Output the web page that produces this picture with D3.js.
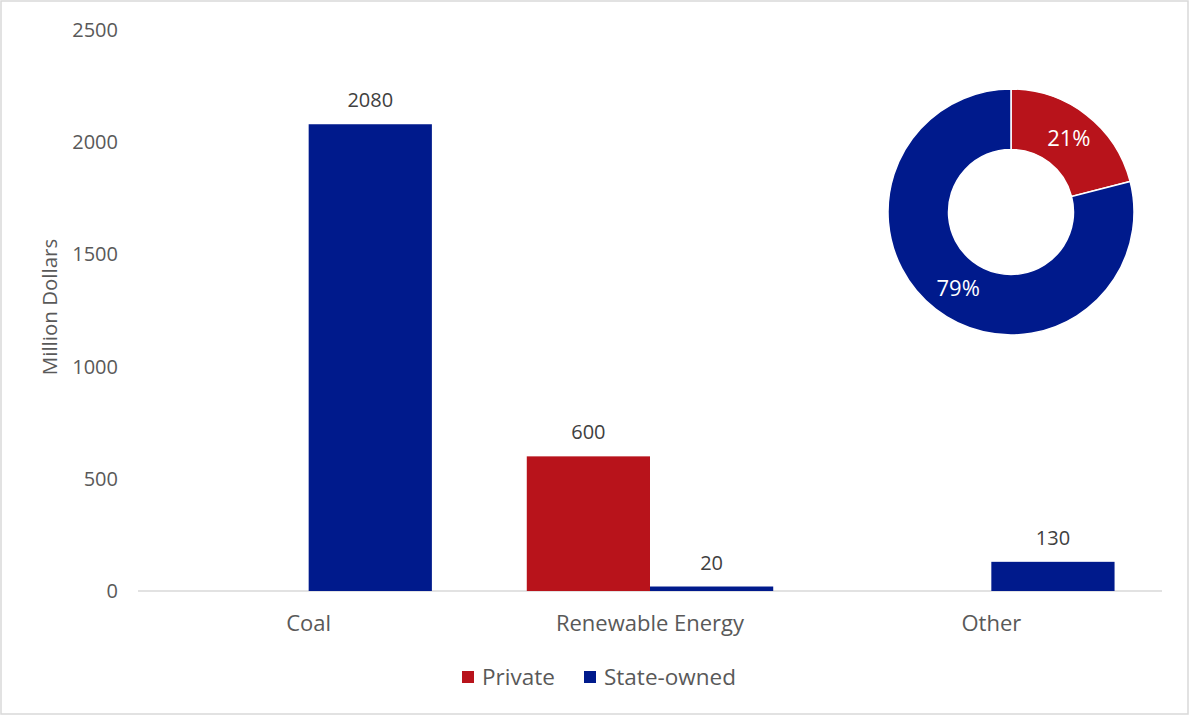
<!DOCTYPE html>
<html><head><meta charset="utf-8">
<script src="https://cdn.jsdelivr.net/npm/d3@7"></script>
<style>
html,body{margin:0;padding:0;background:#fff;}
svg{display:block;font-family:"Open Sans", sans-serif;}
</style></head>
<body><svg id="c" width="1190" height="716"></svg>
<script>
const categories = ["Coal", "Renewable Energy", "Other"];
const seriesNames = ["Private", "State-owned"];
const privateValues = [null, 600, null];
const stateValues = [2080, 20, 130];
const yTicks = [0, 500, 1000, 1500, 2000, 2500];
const donutLabels = ["Private", "State-owned"];
const donutValues = [21, 79];
const colors = {"Private": "#B8131B", "State-owned": "#001A8C"};

(function () {
const svg = d3.select("#c");
const W = 1190, H = 716;
svg.append("rect").attr("x", 1).attr("y", 1).attr("width", W - 3).attr("height", H - 3)
  .attr("fill", "#fff").attr("stroke", "#d9d9d9").attr("stroke-width", 1.5);

const pL = 138, pR = 1162, pT = 30, pB = 591;
const y = d3.scaleLinear().domain([0, 2500]).range([pB, pT]);
const x0 = d3.scaleBand().domain(categories).range([pL, pR]).padding(0);
const gapFrac = 0.139;
const x1 = d3.scaleBand().domain(seriesNames)
  .range([x0.bandwidth() * gapFrac, x0.bandwidth() * (1 - gapFrac)]).padding(0);

const textCol = "#595959";
const ff = "'Open Sans', sans-serif";
const fs = "20px";
const fsL = "22px";

const yAxis = d3.axisLeft(y).tickValues(yTicks).tickFormat(d3.format("d")).tickSize(0).tickPadding(0);
const gy = svg.append("g").attr("transform", `translate(${pL - 20},0)`).call(yAxis);
gy.select(".domain").remove();
gy.selectAll("text").attr("fill", textCol).style("font-size", fs).style("font-family", ff);

svg.append("line").attr("x1", pL).attr("x2", pR).attr("y1", y(0)).attr("y2", y(0))
  .attr("stroke", "#d9d9d9").attr("stroke-width", 1.5);

const xAxis = d3.axisBottom(x0).tickSize(0).tickPadding(0);
const gx = svg.append("g").attr("transform", `translate(0,${pB + 24})`).call(xAxis);
gx.select(".domain").remove();
gx.selectAll("text").attr("fill", textCol).style("font-size", fsL).style("font-family", ff);

svg.append("text").attr("transform", `translate(57,${307}) rotate(-90)`)
  .attr("text-anchor", "middle").attr("fill", textCol).style("font-size", "20.5px")
  .text("Million Dollars");

const data = categories.map((c, i) => ({cat: c, vals: [
  {s: "Private", v: privateValues[i]}, {s: "State-owned", v: stateValues[i]}]}));
const g = svg.append("g");
const groups = g.selectAll("g").data(data).join("g")
  .attr("transform", d => `translate(${x0(d.cat)},0)`);
groups.selectAll("rect").data(d => d.vals.filter(v => v.v != null)).join("rect")
  .attr("x", d => x1(d.s)).attr("width", x1.bandwidth())
  .attr("y", d => y(d.v)).attr("height", d => y(0) - y(d.v))
  .attr("fill", d => colors[d.s]);
groups.selectAll("text").data(d => d.vals.filter(v => v.v != null)).join("text")
  .attr("x", d => x1(d.s) + x1.bandwidth() / 2).attr("y", d => y(d.v) - 17)
  .attr("text-anchor", "middle").attr("fill", "#404040").style("font-size", fs)
  .text(d => d.v);

const leg = svg.append("g");
const legX = [462, 584];
seriesNames.forEach((s, i) => {
  leg.append("rect").attr("x", legX[i]).attr("y", 671).attr("width", 12).attr("height", 12)
    .attr("fill", colors[s]);
  leg.append("text").attr("x", legX[i] + 20).attr("y", 685).attr("fill", textCol)
    .style("font-size", "22.5px").text(s);
});

const cx = 1011, cy = 212, rO = 123, rI = 62.5;
const pie = d3.pie().sort(null).value(d => d.v);
const arcs = pie(donutLabels.map((l, i) => ({l, v: donutValues[i]})));
const arc = d3.arc().innerRadius(rI).outerRadius(rO);
const dg = svg.append("g").attr("transform", `translate(${cx},${cy})`);
dg.selectAll("path").data(arcs).join("path").attr("d", arc)
  .attr("fill", d => colors[d.data.l]).attr("stroke", "#fff").attr("stroke-width", 1.5);
const labelArc = d3.arc().innerRadius((rI + rO) / 2).outerRadius((rI + rO) / 2);
dg.selectAll("text").data(arcs).join("text")
  .attr("transform", d => { const c = labelArc.centroid(d); return `translate(${c[0] + (d.index ? 4 : 1)},${c[1] + (d.index ? 3 : 0)})`; })
  .attr("text-anchor", "middle").attr("dy", "0.35em").attr("fill", "#fff")
  .style("font-size", fsL).text(d => d.data.v + "%");
})();
</script></body></html>
